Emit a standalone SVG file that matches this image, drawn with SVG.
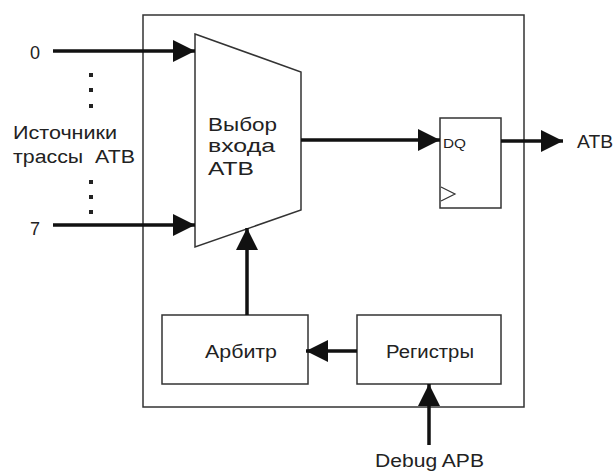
<svg xmlns="http://www.w3.org/2000/svg" width="614" height="471" viewBox="0 0 614 471">
<defs>
<style>
.t{font-family:"Liberation Sans",Arial,sans-serif;font-size:18px;fill:#222}
.box{fill:#fff;stroke:#333;stroke-width:1.5}
.w{stroke:#111;stroke-width:3.5;fill:none}
.dot{fill:#222}
</style>
<marker id="ah" markerUnits="userSpaceOnUse" markerWidth="22" markerHeight="22" refX="22" refY="11" orient="auto" viewBox="0 0 22 22">
<path d="M0,0 L22,11 L0,22 z" fill="#111"/>
</marker>
</defs>
<rect width="614" height="471" fill="#fff"/>
<g id="outer"><rect class="box" x="143" y="15" width="381" height="392"/></g>
<g id="mux">
<polygon class="box" points="195,34 301,72 301,210 195,247"/>
<text class="t" x="208" y="131" textLength="69" lengthAdjust="spacingAndGlyphs">Выбор</text>
<text class="t" x="208" y="152" textLength="67" lengthAdjust="spacingAndGlyphs">входа</text>
<text class="t" x="208" y="175" textLength="46" lengthAdjust="spacingAndGlyphs">ATB</text>
</g>
<g id="ff">
<rect class="box" x="440" y="118" width="61" height="90"/>
<polyline points="441,187 455,194 441,201" fill="none" stroke="#333" stroke-width="1.2"/>
<text class="t" x="443" y="148" style="font-size:12px" textLength="23" lengthAdjust="spacingAndGlyphs">DQ</text>
</g>
<g id="arbiter">
<rect class="box" x="162" y="315" width="146" height="69"/>
<text class="t" x="205" y="358" textLength="72" lengthAdjust="spacingAndGlyphs">Арбитр</text>
</g>
<g id="registers">
<rect class="box" x="357" y="315" width="144" height="69"/>
<text class="t" x="386" y="358" textLength="88" lengthAdjust="spacingAndGlyphs">Регистры</text>
</g>
<g id="sources">
<text class="t" x="30" y="59">0</text>
<text class="t" x="30" y="235">7</text>
<rect class="dot" x="89" y="73" width="4" height="4"/>
<rect class="dot" x="89" y="88" width="4" height="4"/>
<rect class="dot" x="89" y="104" width="4" height="4"/>
<rect class="dot" x="89" y="180" width="4" height="4"/>
<rect class="dot" x="89" y="195" width="4" height="4"/>
<rect class="dot" x="89" y="210" width="4" height="4"/>
<text class="t" x="13" y="139" textLength="104" lengthAdjust="spacingAndGlyphs">Источники</text>
<text class="t" x="13" y="163" textLength="122" lengthAdjust="spacingAndGlyphs" xml:space="preserve">трассы  ATB</text>
</g>
<g id="labels">
<text class="t" x="577" y="148" textLength="36" lengthAdjust="spacingAndGlyphs">ATB</text>
<text class="t" x="375" y="467" textLength="109" lengthAdjust="spacingAndGlyphs">Debug APB</text>
</g>
<g id="connectors">
<line class="w" x1="53" y1="51" x2="195" y2="51" marker-end="url(#ah)"/>
<line class="w" x1="53" y1="225" x2="195" y2="225" marker-end="url(#ah)"/>
<line class="w" x1="301" y1="140" x2="440" y2="140" marker-end="url(#ah)"/>
<line class="w" x1="501" y1="141" x2="563" y2="141" marker-end="url(#ah)"/>
<line class="w" x1="247" y1="315" x2="247" y2="228" marker-end="url(#ah)"/>
<line class="w" x1="357" y1="351" x2="306" y2="351" marker-end="url(#ah)"/>
<line class="w" x1="429" y1="445" x2="429" y2="384" marker-end="url(#ah)"/>
</g>
</svg>
